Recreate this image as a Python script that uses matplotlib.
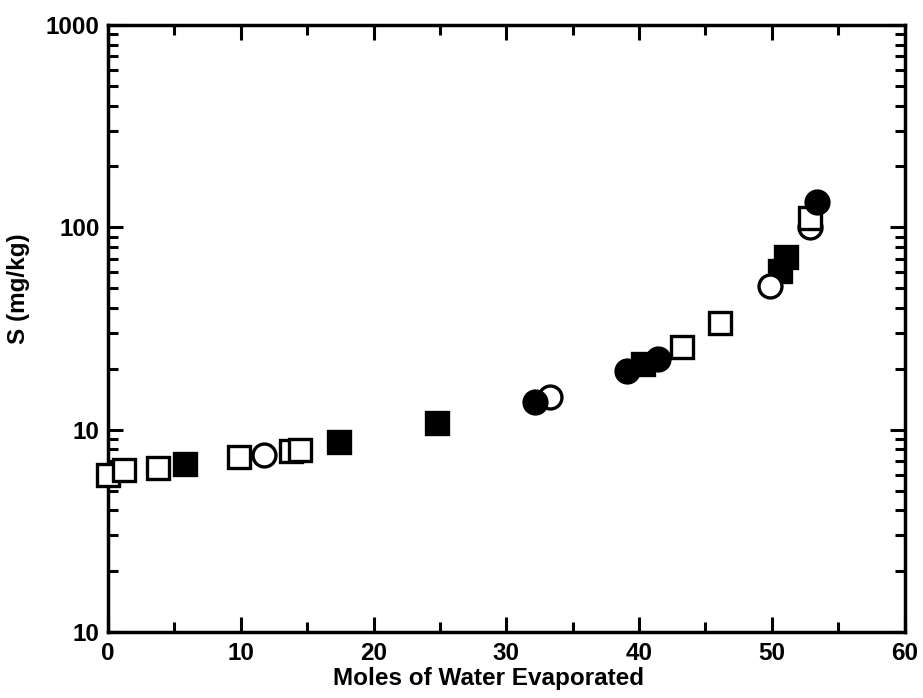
import matplotlib
matplotlib.use("Agg")
import matplotlib.pyplot as plt
from matplotlib.ticker import LogLocator, FixedLocator, NullFormatter

# Data: (moles of water evaporated, S in mg/kg)
open_sq_x = [0.0, 1.2, 3.8, 9.9, 13.8, 14.5, 43.2, 46.1, 52.9]
open_sq_y = [6.0, 6.3, 6.45, 7.3, 7.8, 7.95, 25.7, 33.5, 111]
fill_sq_x = [5.8, 17.4, 24.8, 40.3, 50.6, 51.1]
fill_sq_y = [6.8, 8.7, 10.8, 21.1, 61, 71]
open_ci_x = [11.75, 33.3, 49.85, 52.9]
open_ci_y = [7.5, 14.5, 51.5, 100]
fill_ci_x = [32.2, 39.1, 41.4, 53.4]
fill_ci_y = [13.7, 19.5, 22.4, 134]

xticks = [0, 10, 20, 30, 40, 50, 60]
yticks = [1, 10, 100, 1000]
ytick_labels = ["10", "10", "100", "1000"]

fig = plt.figure(figsize=(9.23, 6.98), dpi=100)
ax = fig.add_axes([0.117, 0.0946, 0.863, 0.8696])

ms_sq = 15.5
ms_ci = 16.5
ew = 2.4
common = dict(ls="none", mec="black", mew=ew, clip_on=False)
ax.plot(fill_sq_x, fill_sq_y, marker="s", ms=ms_sq, mfc="black", zorder=3, **common)
ax.plot(open_ci_x, open_ci_y, marker="o", ms=ms_ci, mfc="white", zorder=4, **common)
ax.plot(open_sq_x, open_sq_y, marker="s", ms=ms_sq, mfc="white", zorder=5, **common)
ax.plot(fill_ci_x, fill_ci_y, marker="o", ms=ms_ci, mfc="black", zorder=6, **common)

ax.set_yscale("log")
ax.set_xlim(0, 60)
ax.set_ylim(1, 1000)
ax.xaxis.set_major_locator(FixedLocator(xticks))
ax.xaxis.set_minor_locator(FixedLocator([5, 15, 25, 35, 45, 55]))
ax.yaxis.set_major_locator(FixedLocator(yticks))
ax.yaxis.set_minor_locator(LogLocator(base=10, subs=range(2, 10)))
ax.yaxis.set_minor_formatter(NullFormatter())
ax.set_yticklabels(ytick_labels)
ax.set_xticklabels([str(t) for t in xticks])

font = "Liberation Sans"
fs = 17.5
for lab in ax.get_xticklabels() + ax.get_yticklabels():
    lab.set_fontfamily(font)
    lab.set_fontweight("bold")
    lab.set_fontsize(fs)

ax.tick_params(which="both", direction="in", top=True, right=True, width=2.2)
ax.tick_params(which="major", length=11)
ax.tick_params(axis="y", which="major", pad=6)
ax.tick_params(axis="x", which="major", pad=7)
ax.tick_params(which="minor", length=7)
for s in ax.spines.values():
    s.set_linewidth(2.5)

ax.set_xlabel("Moles of Water Evaporated", fontfamily=font, fontweight="bold",
              fontsize=fs)
ax.set_ylabel("S (mg/kg)", fontfamily=font, fontweight="bold", fontsize=fs)
ax.xaxis.set_label_coords(0.478, -0.058)
ax.yaxis.set_label_coords(-0.098, 0.565)

fig.savefig("out.png", dpi=100)
